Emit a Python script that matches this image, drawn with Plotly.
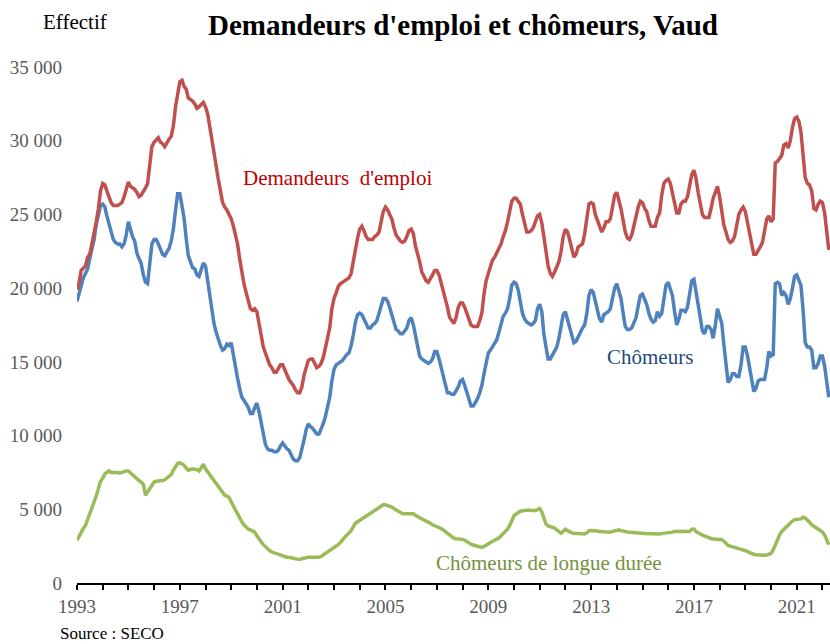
import pandas as pd
import plotly.graph_objects as go

# Monthly data, January 1993 to April 2022
start_month = "1993-01-01"

demandeurs = [
    19900, 20400, 21200, 21400, 21500, 22100, 22300, 23000, 23700, 24500, 25400, 26600,  # 1993
    27100, 27000, 26600, 26200, 25800, 25600, 25600, 25600, 25700, 25800, 26200, 26700,  # 1994
    27200, 26900, 26800, 26700, 26500, 26200, 26300, 26500, 26800, 27100, 28300, 29600,  # 1995
    29900, 30100, 30200, 29900, 29800, 29600, 29900, 30100, 30300, 31000, 32300, 33200,  # 1996
    34000, 34100, 33700, 33500, 32900, 32800, 32700, 32500, 32200, 32300, 32500, 32600,  # 1997
    32300, 31800, 31000, 30200, 29300, 28300, 27400, 26500, 25800, 25500, 25300, 25000,  # 1998
    24700, 24200, 23700, 23000, 22000, 21000, 20300, 19700, 19100, 18600, 18500, 18600,  # 1999
    18400, 17600, 16900, 16000, 15600, 15100, 14800, 14600, 14300, 14300, 14600, 14800,  # 2000
    14800, 14400, 14100, 13800, 13600, 13400, 13100, 12900, 12900, 13300, 14100, 14700,  # 2001
    15100, 15200, 15200, 14900, 14600, 14700, 14900, 15300, 15900, 16600, 17300, 18600,  # 2002
    19300, 19700, 20100, 20300, 20400, 20500, 20600, 20700, 21000, 21800, 22900, 23400,  # 2003
    24000, 24200, 23900, 23500, 23300, 23300, 23300, 23500, 23600, 23800, 24400, 25200,  # 2004
    25500, 25300, 25000, 24700, 24100, 23600, 23400, 23200, 23100, 23200, 23500, 23900,  # 2005
    24000, 23700, 22900, 22400, 21800, 21100, 20800, 20500, 20400, 20600, 20900, 21200,  # 2006
    21200, 20900, 20400, 19900, 19400, 18700, 18000, 17800, 17600, 18000, 18700, 19000,  # 2007
    19000, 18700, 18300, 17900, 17500, 17400, 17400, 17400, 17800, 18300, 19600, 20500,  # 2008
    21000, 21500, 21900, 22100, 22400, 22600, 23000, 23500, 23900, 24500, 25200, 25900,  # 2009
    26100, 26100, 25900, 25700, 25000, 24300, 23800, 23800, 23900, 24100, 24500, 24900,  # 2010
    25000, 24400, 23500, 22500, 21500, 21000, 20800, 21100, 21500, 21800, 22500, 23500,  # 2011
    24000, 23800, 23300, 22600, 22100, 22300, 22800, 22900, 23000, 23700, 24800, 25700,  # 2012
    25800, 25700, 25000, 24600, 24100, 23800, 24100, 24500, 24500, 24700, 25500, 26300,  # 2013
    26500, 26000, 25400, 24600, 23800, 23400, 23300, 23600, 24300, 24800, 25500, 25900,  # 2014
    25800, 25400, 25200, 24600, 24200, 24200, 24200, 24800, 25100, 26300, 27100, 27300,  # 2015
    27400, 27100, 26500, 25800, 25100, 25100, 25700, 25900, 25900, 26200, 26900, 27700,  # 2016
    28000, 27400, 26500, 25700, 25000, 24800, 24800, 24800, 25400, 26100, 26500, 26900,  # 2017
    26200, 25200, 24300, 23800, 23300, 23100, 23200, 23500, 24300, 25000, 25300, 25500,  # 2018
    25200, 24400, 23600, 22800, 22300, 22300, 22500, 22800, 23100, 23800, 24700, 24900,  # 2019
    24500, 24700, 28500, 28600, 28800, 29000, 29700, 29800, 29500, 30000, 30900, 31500,  # 2020
    31600, 31300, 30600, 29000, 27500, 27100, 27000, 26600, 25400, 25300, 25700, 25900,  # 2021
    25800, 25100, 24000, 22600,                                                          # 2022
]

chomeurs = [
    19100, 19700, 20100, 20700, 21000, 21300, 22000, 22600, 23300, 24300, 25100, 25600,  # 1993
    25700, 25500, 24900, 24300, 23900, 23300, 23100, 23000, 23000, 22800, 23000, 23600,  # 1994
    24500, 23900, 23500, 23200, 22400, 22000, 21700, 20900, 20400, 20300, 21500, 23000,  # 1995
    23300, 23300, 23000, 22600, 22300, 22200, 22400, 22700, 23200, 24000, 25300, 26400,  # 1996
    26400, 25700, 24800, 23400, 22200, 21800, 21400, 21300, 20900, 20800, 21200, 21700,  # 1997
    21500, 20500, 19300, 18400, 17600, 17000, 16500, 16100, 15800, 15900, 16200, 16100,  # 1998
    16300, 15400, 14500, 13900, 13200, 12600, 12400, 12200, 11900, 11500, 11500, 11900,  # 1999
    12200, 11600, 10800, 10100, 9400, 9100, 9000, 9000, 8900, 8900, 9000, 9300,          # 2000
    9500, 9300, 9100, 9000, 8700, 8400, 8300, 8300, 8500, 9000, 9700, 10400,             # 2001
    10800, 10600, 10500, 10300, 10100, 10100, 10400, 10800, 11300, 11900, 12600, 13700,  # 2002
    14500, 14800, 14900, 15000, 15100, 15300, 15500, 15600, 16100, 16800, 17700, 18200,  # 2003
    18300, 18200, 17900, 17500, 17300, 17300, 17500, 17600, 17800, 18300, 18900, 19300,  # 2004
    19300, 19100, 18700, 18200, 17600, 17200, 17100, 16900, 16900, 17100, 17300, 17800,  # 2005
    18000, 17500, 16800, 16000, 15400, 15200, 15100, 15000, 14900, 15000, 15200, 15700,  # 2006
    15700, 15200, 14600, 14100, 13400, 12900, 12900, 12800, 12800, 13000, 13300, 13700,  # 2007
    13800, 13400, 12900, 12500, 12000, 12000, 12200, 12500, 12900, 13400, 14200, 15000,  # 2008
    15600, 15800, 16000, 16200, 16500, 17000, 17500, 18100, 18300, 18600, 19300, 20200,  # 2009
    20400, 20300, 19900, 19200, 18300, 17900, 17700, 17600, 17500, 17600, 17800, 18600,  # 2010
    18900, 18400, 16900, 16000, 15200, 15200, 15500, 15700, 16000, 16600, 17300, 18200,  # 2011
    18400, 17900, 17300, 16800, 16300, 16400, 16700, 17100, 17300, 17500, 18300, 19500,  # 2012
    19900, 19700, 19000, 18500, 17900, 17700, 18200, 18300, 18400, 18600, 19300, 20000,  # 2013
    20300, 19800, 19300, 18300, 17400, 17200, 17200, 17300, 17600, 18000, 18800, 19500,  # 2014
    19600, 19300, 18900, 18300, 17900, 17700, 17800, 18400, 18100, 18300, 19200, 20200,  # 2015
    20400, 20000, 19500, 18400, 17500, 17900, 18500, 18500, 18400, 18700, 19500, 20500,  # 2016
    20600, 19800, 19000, 18000, 17100, 16900, 17400, 17400, 17200, 16600, 17500, 18600,  # 2017
    18100, 17600, 16200, 14800, 13600, 13800, 14200, 14200, 14000, 14000, 14800, 16000,  # 2018
    16000, 15400, 14600, 13800, 13000, 13200, 13700, 13800, 13800, 13800, 14600, 15700,  # 2019
    15400, 15500, 20300, 20400, 20300, 19500, 19700, 19500, 18900, 19300, 20000, 20800,  # 2020
    20900, 20500, 20200, 18500, 16300, 16000, 16000, 15800, 14600, 14600, 14900, 15400,  # 2021
    15400, 14700, 13800, 12600,                                                          # 2022
]

longue_duree = [
    2900, 3200, 3500, 3700, 3900, 4300, 4700, 5000, 5400, 5900, 6400, 6900,  # 1993
    7100, 7400, 7500, 7600, 7500, 7500, 7550, 7500, 7450, 7500, 7600, 7600,  # 1994
    7600, 7450, 7350, 7200, 7050, 6950, 6850, 6700, 5950, 6200, 6450, 6700,  # 1995
    6850, 6900, 6900, 6950, 6950, 7000, 7100, 7250, 7350, 7650, 7900, 8100,  # 1996
    8150, 8050, 8000, 7800, 7650, 7700, 7750, 7700, 7700, 7600, 7800, 8050,  # 1997
    7750, 7550, 7350, 7100, 6950, 6700, 6500, 6300, 6100, 5950, 5900, 5800,  # 1998
    5500, 5200, 4950, 4700, 4400, 4150, 3950, 3800, 3650, 3600, 3500, 3450,  # 1999
    3200, 2950, 2800, 2600, 2450, 2350, 2200, 2100, 2050, 2000, 1900, 1850,  # 2000
    1850, 1800, 1750, 1750, 1700, 1680, 1650, 1620, 1600, 1650, 1700, 1740,  # 2001
    1750, 1750, 1740, 1740, 1740, 1750, 1800, 1900, 1980, 2100, 2200, 2300,  # 2002
    2400, 2480, 2600, 2750, 2950, 3100, 3250, 3400, 3550, 3800, 4050, 4150,  # 2003
    4250, 4320, 4400, 4550, 4620, 4700, 4800, 4950, 5050, 5150, 5250, 5300,  # 2004
    5300, 5250, 5250, 5150, 5050, 4950, 4850, 4750, 4700, 4700, 4700, 4720,  # 2005
    4730, 4700, 4600, 4500, 4450, 4350, 4270, 4200, 4150, 4050, 3950, 3900,  # 2006
    3850, 3780, 3700, 3600, 3480, 3350, 3200, 3100, 3030, 3000, 3000, 2980,  # 2007
    2960, 2900, 2800, 2700, 2630, 2580, 2530, 2480, 2450, 2420, 2480, 2550,  # 2008
    2680, 2750, 2830, 2900, 2960, 3050, 3200, 3350, 3500, 3650, 3900, 4200,  # 2009
    4550, 4680, 4800, 4870, 4900, 4930, 4950, 4950, 4920, 4900, 4920, 4980,  # 2010
    5050, 4800, 4400, 4000, 3870, 3820, 3780, 3720, 3600, 3450, 3370, 3500,  # 2011
    3650, 3550, 3450, 3400, 3370, 3350, 3340, 3330, 3320, 3330, 3400, 3550,  # 2012
    3560, 3560, 3550, 3520, 3500, 3480, 3460, 3440, 3420, 3450, 3500, 3550,  # 2013
    3580, 3600, 3550, 3500, 3470, 3460, 3440, 3420, 3400, 3380, 3370, 3370,  # 2014
    3370, 3360, 3350, 3340, 3330, 3310, 3300, 3310, 3330, 3350, 3360, 3370,  # 2015
    3380, 3400, 3450, 3500, 3520, 3530, 3510, 3490, 3480, 3480, 3500, 3650,  # 2016
    3660, 3480, 3380, 3320, 3250, 3180, 3140, 3080, 3020, 2980, 2960, 2960,  # 2017
    2960, 2940, 2850, 2700, 2550, 2500, 2450, 2380, 2350, 2320, 2280, 2240,  # 2018
    2200, 2150, 2050, 1970, 1950, 1920, 1900, 1900, 1880, 1880, 1900, 1920,  # 2019
    2000, 2240, 2550, 3000, 3250, 3500, 3650, 3720, 3900, 4050, 4200, 4300,  # 2020
    4330, 4320, 4350, 4460, 4400, 4270, 4100, 3950, 3850, 3750, 3700, 3600,  # 2021
    3450, 3250, 2950, 2600,                                                  # 2022
]

years = list(range(1993, 2023))
labelled_years = [1993, 1997, 2001, 2005, 2009, 2013, 2017, 2021]
y_ticks = [0, 5000, 10000, 15000, 20000, 25000, 30000, 35000]
y_tick_text = ["0", "5 000", "10 000", "15 000", "20 000", "25 000", "30 000", "35 000"]

dates = pd.date_range(start_month, periods=len(demandeurs), freq="MS")

SERIF = "Liberation Serif"

fig = go.Figure()
fig.add_trace(go.Scatter(x=dates, y=longue_duree, mode="lines",
                         line=dict(color="#9BBB59", width=3.5), name="Chômeurs de longue durée"))
fig.add_trace(go.Scatter(x=dates, y=chomeurs, mode="lines",
                         line=dict(color="#4F81BD", width=3.5), name="Chômeurs"))
fig.add_trace(go.Scatter(x=dates, y=demandeurs, mode="lines",
                         line=dict(color="#C0504D", width=3.5), name="Demandeurs d'emploi"))

fig.update_layout(
    width=830, height=644,
    margin=dict(l=77, r=0, t=67, b=61),
    paper_bgcolor="white", plot_bgcolor="white",
    showlegend=False,
    font=dict(family=SERIF, color="#595959", size=19),
)

fig.update_xaxes(
    type="date",
    range=["1993-01-01", "2022-04-18"],
    tickvals=[f"{y}-01-01" for y in years],
    ticktext=[str(y) if y in labelled_years else "" for y in years],
    ticks="outside", ticklen=5, tickwidth=1.5, tickcolor="black",
    showline=True, linecolor="black", linewidth=2,
    showgrid=False, zeroline=False,
    tickfont=dict(family=SERIF, size=19, color="#595959"),
)
fig.update_yaxes(
    range=[0, 35000],
    tickvals=y_ticks, ticktext=y_tick_text,
    showgrid=False, zeroline=False, showline=False,
    ticks="", ticklabelstandoff=14,
    tickfont=dict(family=SERIF, size=19, color="#595959"),
)

annotations = [
    dict(text="<b>Demandeurs d'emploi et chômeurs, Vaud</b>", x=0.5126, y=1.081,
         font=dict(family=SERIF, size=29, color="black")),
    dict(text="Effectif", x=-0.003, y=1.087, font=dict(family=SERIF, size=21, color="black")),
    dict(text="Source : SECO", x=-0.025, y=-0.097, xanchor="left",
         font=dict(family=SERIF, size=17, color="black")),
    dict(text="Demandeurs  d'emploi", x=0.3466, y=0.785, font=dict(family=SERIF, size=21, color="#C00000")),
    dict(text="Chômeurs", x=0.761, y=0.438, font=dict(family=SERIF, size=21, color="#1F497D")),
    dict(text="Chômeurs de longue durée", x=0.627, y=0.0388, font=dict(family=SERIF, size=21, color="#76923C")),
]
for a in annotations:
    a.setdefault("xanchor", "center")
    fig.add_annotation(xref="paper", yref="paper", showarrow=False, yanchor="middle", **a)

fig.write_html("out.html", config={"displayModeBar": False},
               post_script="document.body.style.margin='0px';document.body.style.overflow='hidden';")
